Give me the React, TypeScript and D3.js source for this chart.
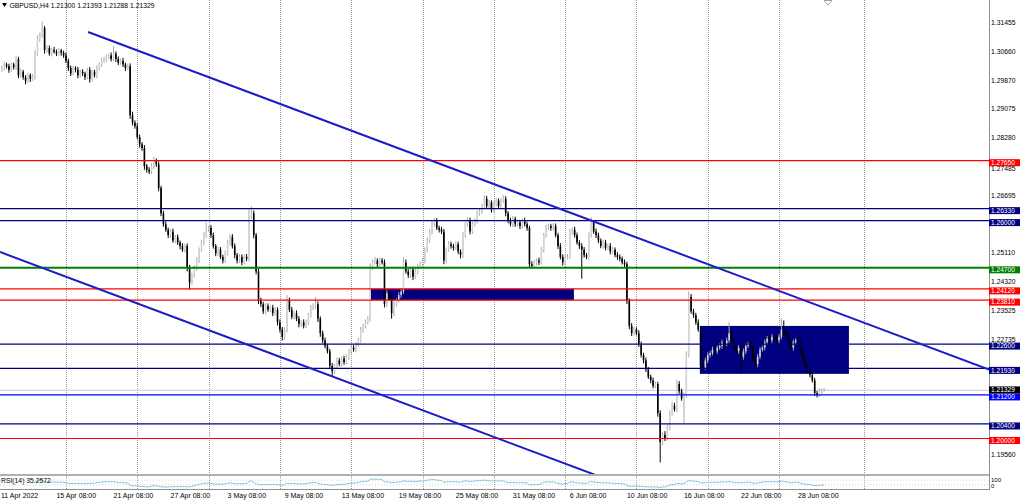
import React from "react";
import * as d3 from "d3";

const W = 1024;
const H = 501;

// GBPUSD H4 closes, in 1/10000 units (13020 => 1.3020); bar 0 = 11 Apr 12:00
const firstOpen = 13015;
const closes = [
  13020, 13030, 13025, 13015, 13030, 13022, 13045, 13000, 13010, 12995, // 0
  12985, 13000, 12990, 12995, 13060, 13100, 13110, 13130, 13070, 13075, // 10
  13060, 13070, 13065, 13060, 13068, 13062, 13055, 13040, 13020, 13005, // 20
  13020, 13015, 13000, 13010, 13005, 12995, 13015, 12990, 13010, 13000, // 30
  13020, 13030, 13040, 13045, 13050, 13055, 13045, 13060, 13045, 13035, // 40
  13040, 13030, 13020, 13025, 12890, 12870, 12860, 12830, 12810, 12800, // 50
  12750, 12740, 12735, 12750, 12765, 12755, 12690, 12620, 12590, 12575, // 60
  12560, 12570, 12545, 12555, 12540, 12530, 12520, 12530, 12470, 12430, // 70
  12450, 12470, 12490, 12520, 12540, 12560, 12575, 12580, 12560, 12530, // 80
  12510, 12520, 12500, 12490, 12510, 12540, 12555, 12530, 12505, 12490, // 90
  12500, 12485, 12500, 12495, 12610, 12620, 12560, 12460, 12380, 12370, // 100
  12350, 12365, 12355, 12360, 12345, 12355, 12320, 12300, 12280, 12300, // 110
  12380, 12355, 12335, 12345, 12330, 12315, 12320, 12310, 12320, 12340, // 120
  12360, 12365, 12370, 12330, 12290, 12270, 12255, 12240, 12200, 12185, // 130
  12200, 12215, 12205, 12220, 12210, 12225, 12240, 12250, 12245, 12260, // 140
  12270, 12300, 12310, 12320, 12330, 12470, 12485, 12490, 12480, 12490, // 150
  12485, 12370, 12400, 12390, 12345, 12370, 12380, 12395, 12405, 12485, // 160
  12460, 12450, 12465, 12445, 12460, 12475, 12480, 12490, 12520, 12545, // 170
  12570, 12590, 12600, 12580, 12575, 12570, 12490, 12520, 12535, 12530, // 180
  12525, 12535, 12515, 12505, 12560, 12590, 12600, 12570, 12590, 12600, // 190
  12620, 12625, 12640, 12660, 12640, 12650, 12630, 12645, 12655, 12640, // 200
  12655, 12660, 12620, 12600, 12590, 12605, 12590, 12595, 12585, 12600, // 210
  12590, 12580, 12480, 12475, 12485, 12490, 12485, 12520, 12560, 12580, // 220
  12585, 12580, 12585, 12560, 12530, 12500, 12485, 12500, 12500, 12570, // 230
  12575, 12560, 12540, 12530, 12520, 12505, 12500, 12560, 12595, 12570, // 240
  12560, 12545, 12530, 12540, 12525, 12530, 12515, 12520, 12505, 12500, // 250
  12495, 12485, 12480, 12380, 12310, 12290, 12300, 12290, 12260, 12230, // 260
  12215, 12190, 12170, 12160, 12145, 12150, 12070, 11990, 12010, 12000, // 270
  12030, 12070, 12090, 12080, 12150, 12130, 12110, 12120, 12230, 12390, // 280
  12350, 12340, 12320, 12300, 12200, 12195, 12215, 12230, 12235, 12245, // 290
  12240, 12250, 12255, 12265, 12260, 12270, 12290, 12270, 12250, 12240, // 300
  12250, 12225, 12240, 12255, 12260, 12250, 12220, 12205, 12225, 12245, // 310
  12250, 12265, 12275, 12270, 12280, 12275, 12270, 12280, 12300, 12290, // 320
  12285, 12260, 12250, 12265, 12270, 12265, 12240, 12215, 12200, 12190, // 330
  12175, 12160, 12125, 12120, 12130, 12130, 12132.9,                    // 340
];
// upper / lower wick lengths in the same units
const wickUp = [
  6, 8, 5, 7, 6, 5, 10, 6, 8, 5,
  6, 7, 5, 8, 10, 10, 8, 18, 6, 8,
  7, 5, 8, 6, 7, 5, 6, 8, 6, 7,
  6, 5, 8, 6, 7, 5, 6, 8, 6, 5,
  7, 6, 8, 6, 7, 6, 8, 20, 6, 7,
  6, 8, 5, 7, 8, 10, 6, 8, 7, 6,
  8, 6, 7, 8, 10, 6, 8, 6, 7, 8,
  6, 7, 8, 6, 7, 5, 8, 6, 7, 8,
  6, 7, 8, 6, 7, 8, 20, 6, 8, 7,
  6, 8, 7, 6, 8, 7, 6, 8, 7, 6,
  8, 7, 6, 8, 20, 20, 8, 6, 7, 8,
  6, 8, 7, 6, 8, 7, 6, 8, 7, 6,
  15, 8, 7, 6, 8, 7, 6, 8, 7, 6,
  8, 7, 20, 8, 6, 7, 8, 6, 7, 8,
  6, 8, 7, 6, 8, 7, 6, 8, 7, 6,
  8, 7, 6, 8, 7, 12, 8, 10, 6, 8,
  7, 8, 10, 6, 8, 7, 6, 8, 7, 15,
  8, 7, 6, 8, 7, 6, 8, 7, 6, 8,
  7, 10, 8, 7, 6, 8, 7, 6, 8, 7,
  6, 8, 7, 6, 8, 7, 10, 8, 7, 6,
  8, 7, 6, 10, 8, 7, 6, 8, 7, 6,
  8, 10, 7, 6, 8, 7, 6, 8, 7, 6,
  8, 7, 6, 8, 7, 6, 8, 7, 6, 8,
  7, 6, 8, 7, 6, 8, 7, 6, 8, 7,
  6, 8, 7, 6, 8, 7, 6, 8, 15, 6,
  8, 7, 6, 8, 7, 6, 8, 7, 6, 8,
  7, 6, 8, 7, 6, 8, 7, 6, 8, 7,
  6, 8, 7, 6, 8, 7, 6, 8, 7, 10,
  8, 7, 10, 8, 12, 8, 7, 6, 10, 15,
  8, 7, 6, 8, 7, 6, 8, 7, 6, 8,
  7, 6, 8, 7, 6, 8, 30, 7, 6, 8,
  7, 6, 8, 7, 6, 8, 7, 6, 8, 7,
  6, 8, 7, 6, 8, 7, 6, 8, 30, 25,
  7, 6, 8, 7, 6, 8, 7, 6, 8, 7,
  6, 8, 7, 6, 8, 7, 6.4,
];
const wickDown = [
  5, 7, 6, 8, 5, 6, 7, 8, 6, 7,
  10, 6, 8, 5, 7, 6, 8, 6, 10, 7,
  6, 8, 5, 7, 6, 8, 7, 6, 8, 7,
  5, 7, 8, 6, 7, 8, 6, 10, 7, 6,
  8, 6, 7, 5, 8, 6, 7, 6, 8, 7,
  6, 7, 8, 6, 10, 8, 7, 6, 9, 8,
  10, 8, 7, 6, 8, 7, 9, 8, 7, 6,
  8, 7, 6, 8, 7, 9, 6, 8, 10, 20,
  7, 6, 8, 7, 6, 8, 7, 6, 8, 7,
  8, 7, 6, 8, 7, 6, 8, 7, 9, 8,
  7, 8, 6, 7, 8, 6, 9, 8, 10, 8,
  7, 8, 6, 7, 8, 6, 9, 8, 10, 7,
  8, 7, 6, 8, 7, 9, 8, 7, 6, 8,
  7, 6, 8, 9, 10, 8, 7, 6, 9, 15,
  8, 7, 6, 8, 7, 6, 8, 7, 6, 8,
  7, 6, 8, 7, 6, 8, 7, 6, 8, 7,
  6, 9, 8, 7, 15, 8, 7, 6, 8, 7,
  6, 8, 7, 9, 6, 8, 7, 6, 8, 7,
  6, 8, 7, 6, 8, 7, 10, 8, 6, 7,
  8, 6, 7, 9, 8, 7, 6, 8, 7, 6,
  8, 7, 6, 8, 7, 6, 8, 7, 6, 8,
  7, 6, 8, 7, 6, 8, 7, 6, 8, 7,
  6, 8, 10, 7, 6, 8, 7, 6, 8, 7,
  6, 8, 7, 6, 8, 7, 9, 8, 7, 6,
  8, 7, 6, 8, 80, 7, 6, 8, 7, 6,
  8, 7, 6, 8, 7, 6, 8, 7, 6, 8,
  7, 6, 8, 10, 9, 8, 7, 6, 8, 7,
  8, 7, 6, 8, 7, 6, 10, 56, 8, 7,
  6, 8, 7, 6, 8, 7, 6, 70, 8, 7,
  6, 8, 7, 6, 8, 7, 6, 8, 7, 6,
  8, 7, 6, 8, 7, 6, 8, 7, 6, 8,
  7, 45, 8, 7, 6, 8, 7, 6, 8, 7,
  6, 8, 7, 6, 8, 7, 6, 8, 7, 6,
  8, 7, 6, 8, 7, 6, 8, 7, 6, 8,
  7, 6, 8, 7, 6, 8, 1.2,
];

const symbolTitle = "GBPUSD,H4";
const rsiTitle = "RSI(14) 35.2572";

// horizontal levels
const levelPrices = [1.2765, 1.2633, 1.26, 1.247, 1.2412, 1.2381, 1.226, 1.2193, 1.212, 1.204, 1.2];
const levelKinds = ["red", "navy", "navy", "green", "red", "red", "navy", "navy", "blue", "navy", "red"];

// price scale labels
const priceTicks = [1.31455, 1.3066, 1.2987, 1.29075, 1.2828, 1.27485, 1.26695, 1.2511, 1.2432, 1.23525, 1.22735, 1.1956];

// time labels (bar index where each label starts)
const dateLabels = [
  "15 Apr 08:00", "21 Apr 08:00", "27 Apr 08:00", "3 May 08:00", "9 May 08:00", "13 May 08:00",
  "19 May 08:00", "25 May 08:00", "31 May 08:00", "6 Jun 08:00", "10 Jun 08:00", "16 Jun 08:00",
  "22 Jun 08:00", "28 Jun 08:00",
];
const dateLabelBars = [23, 47, 71, 95, 119, 143, 167, 191, 215, 239, 263, 287, 311, 335];
const firstDateLabel = "11 Apr 2022";
const separatorBars = [27, 57, 87, 117, 147, 177, 207, 237, 267, 297, 327, 362.7];

// trend lines (bar, price) anchors
const upperLine = { b1: 36.3, p1: 1.31193, b2: 415.3, p2: 1.219 };
const lowerLine = { b1: -0.76, p1: 1.25135, b2: 248.7, p2: 1.19022 };

// rectangles (bar range, price range)
const zones = [
  { b1: 155.3, b2: 240.7, p1: 1.2412, p2: 1.2381 },
  { b1: 293.7, b2: 356.4, p1: 1.231, p2: 1.2178 },
];

const kindColor: Record<string, string> = {
  red: "#ff0000",
  navy: "#000080",
  green: "#008000",
  blue: "#0000ff",
};

const FONT = "'Liberation Sans', Arial, sans-serif";

export default function App() {
  const plotRight = 989;
  const mainBottom = 474;
  const x = d3.scaleLinear().domain([0, closes.length - 1]).range([1.8, 824.2]);
  const y = d3.scaleLinear().domain([1.2, 1.31455]).range([438.5, 22.5]);

  const candles = closes.map((c, i) => {
    const o = i === 0 ? firstOpen : closes[i - 1];
    const hi = Math.max(o, c) + wickUp[i];
    const lo = Math.min(o, c) - wickDown[i];
    return { i, o: o / 1e4, c: c / 1e4, h: hi / 1e4, l: lo / 1e4 };
  });
  const last = candles[candles.length - 1];

  // RSI(14), Wilder smoothing
  const period = 14;
  const rsi: [number, number][] = [];
  let ag = 0;
  let al = 0;
  for (let i = 1; i < closes.length; i++) {
    const ch = closes[i] - closes[i - 1];
    const g = Math.max(ch, 0);
    const l = Math.max(-ch, 0);
    if (i <= period) {
      ag += g;
      al += l;
      if (i === period) {
        ag /= period;
        al /= period;
        rsi.push([i, al === 0 ? 100 : 100 - 100 / (1 + ag / al)]);
      }
    } else {
      ag = (ag * (period - 1) + g) / period;
      al = (al * (period - 1) + l) / period;
      rsi.push([i, al === 0 ? 100 : 100 - 100 / (1 + ag / al)]);
    }
  }
  const rsiY = d3.scaleLinear().domain([0, 100]).range([488.5, 476.5]);
  const rsiLine = d3
    .line<[number, number]>()
    .x((d) => x(d[0]))
    .y((d) => rsiY(d[1]))(rsi);

  const lineThrough = (ln: { b1: number; p1: number; b2: number; p2: number }) => {
    const slope = (ln.p2 - ln.p1) / (ln.b2 - ln.b1);
    return (b: number) => ln.p1 + slope * (b - ln.b1);
  };
  const upF = lineThrough(upperLine);
  const loF = lineThrough(lowerLine);
  const bRight = x.invert(plotRight);
  const bLeft = x.invert(0);

  const bodyW = 1.6;

  // price-scale label boxes: box top sits ~1.5px above its line, 7px tall
  const boxH = 7;
  const levelBoxes = levelPrices.map((p, i) => ({ p, color: kindColor[levelKinds[i]], top: y(p) - 1.5 }));
  let bidTop = y(last.c) - 1.5;
  levelBoxes.forEach((b) => {
    if (b.top > bidTop && b.top < bidTop + boxH) bidTop = b.top - boxH;
  });
  // plain tick labels: nudge below any level box they would collide with
  const tickPos = priceTicks.map((p) => {
    let base = y(p) + 2.5;
    levelBoxes.forEach((b) => {
      const bottom = b.top + boxH;
      if (base - 5 < bottom && base > b.top && y(p) > y(b.p)) base = bottom + 5.2;
    });
    return base;
  });

  return (
    <svg
      width={W}
      height={H}
      style={{ position: "fixed", left: 0, top: 0, background: "#fff" }}
      fontFamily={FONT}
    >
      <defs>
        <clipPath id="mainClip">
          <rect x={0} y={0} width={plotRight} height={mainBottom} />
        </clipPath>
        <clipPath id="rsiClip">
          <rect x={0} y={476} width={plotRight} height={13} />
        </clipPath>
      </defs>
      <rect x={0} y={0} width={W} height={H} fill="#fff" />

      {/* period separators */}
      {separatorBars.map((b, i) => (
        <line
          key={"sep" + i}
          x1={Math.round(x(b)) + 0.5}
          x2={Math.round(x(b)) + 0.5}
          y1={0}
          y2={489}
          stroke="#9a9a9a"
          strokeDasharray="1,1"
          strokeWidth={1}
        />
      ))}

      <g clipPath="url(#mainClip)">
        {/* rectangles */}
        {zones.map((z, i) => (
          <rect
            key={"z" + i}
            x={x(z.b1)}
            width={x(z.b2) - x(z.b1)}
            y={y(z.p1)}
            height={y(z.p2) - y(z.p1)}
            fill="#000080"
          />
        ))}

        {/* bid line */}
        <line x1={0} x2={plotRight} y1={y(last.c)} y2={y(last.c)} stroke="#c8c8c8" strokeWidth={1} />

        {/* candles */}
        {candles.map((d) => {
          const bull = d.c >= d.o;
          const cx = x(d.i);
          const top = y(Math.max(d.o, d.c));
          const bot = y(Math.min(d.o, d.c));
          return (
            <g key={"c" + d.i}>
              <line
                x1={cx}
                x2={cx}
                y1={y(d.h)}
                y2={y(d.l)}
                stroke={bull ? "#a8a8a8" : "#000"}
                strokeWidth={1}
              />
              <rect
                x={cx - bodyW / 2}
                width={bodyW}
                y={top}
                height={Math.max(bot - top, 1)}
                fill={bull ? "#d4d4d4" : "#000"}
              />
            </g>
          );
        })}

        {/* horizontal levels */}
        {levelPrices.map((p, i) => (
          <line
            key={"lv" + i}
            x1={0}
            x2={plotRight}
            y1={y(p)}
            y2={y(p)}
            stroke={kindColor[levelKinds[i]]}
            strokeWidth={levelKinds[i] === "green" ? 2 : 1.2}
          />
        ))}

        {/* trend lines */}
        <line
          x1={x(upperLine.b1)}
          y1={y(upF(upperLine.b1))}
          x2={plotRight}
          y2={y(upF(bRight))}
          stroke="#1c1cc8"
          strokeWidth={2}
        />
        <line
          x1={0}
          y1={y(loF(bLeft))}
          x2={x(lowerLine.b2 + 20)}
          y2={y(loF(lowerLine.b2 + 20))}
          stroke="#1c1cc8"
          strokeWidth={2}
        />
      </g>

      {/* chart shift marker */}
      <polygon points="824,0.5 832,0.5 828,5" fill="none" stroke="#a0a0a0" strokeWidth={1} />

      {/* header */}
      <polygon points="2,3 7,3 4.5,7" fill="#000" />
      <text x={9.5} y={8} fontSize={6.8} fill="#000">
        {symbolTitle + "  " + [last.o, last.h, last.l, last.c].map((v) => v.toFixed(5)).join(" ")}
      </text>

      {/* RSI separator and panel */}
      <rect x={0} y={474} width={plotRight} height={2} fill="#b0b0b0" />
      <g clipPath="url(#rsiClip)">
        <line x1={0} x2={plotRight} y1={rsiY(70)} y2={rsiY(70)} stroke="#d0d0d0" strokeDasharray="1,2" />
        <line x1={0} x2={plotRight} y1={rsiY(30)} y2={rsiY(30)} stroke="#d0d0d0" strokeDasharray="1,2" />
        <path d={rsiLine || ""} fill="none" stroke="#8cc4dc" strokeWidth={1} />
      </g>
      <text x={1} y={483} fontSize={6.8} fill="#000">
        {rsiTitle}
      </text>
      <line x1={0} x2={plotRight} y1={489.5} y2={489.5} stroke="#909090" strokeWidth={1} />

      {/* price axis */}
      <line x1={plotRight + 0.5} x2={plotRight + 0.5} y1={0} y2={490} stroke="#909090" strokeWidth={1} />
      {priceTicks.map((p, i) => (
        <text key={"pt" + i} x={991} y={tickPos[i]} fontSize={6.8} fill="#000">
          {p.toFixed(5)}
        </text>
      ))}
      {levelBoxes.map((b, i) => (
        <g key={"lb" + i}>
          <rect x={plotRight} y={b.top} width={31} height={boxH} fill={b.color} />
          <text x={991} y={b.top + 5.8} fontSize={6.6} fill="#fff">
            {b.p.toFixed(5)}
          </text>
        </g>
      ))}
      <rect x={plotRight} y={bidTop} width={31} height={boxH} fill="#000" />
      <text x={991} y={bidTop + 5.8} fontSize={6.6} fill="#fff">
        {last.c.toFixed(5)}
      </text>
      <text x={991} y={482} fontSize={6} fill="#000">
        100
      </text>
      <text x={991} y={488} fontSize={6} fill="#000">
        0
      </text>

      {/* time axis */}
      <text x={1} y={498} fontSize={7} fill="#000">
        {firstDateLabel}
      </text>
      {dateLabels.map((t, i) => (
        <text key={"dl" + i} x={x(dateLabelBars[i])} y={498} fontSize={7} fill="#000">
          {t}
        </text>
      ))}
    </svg>
  );
}
